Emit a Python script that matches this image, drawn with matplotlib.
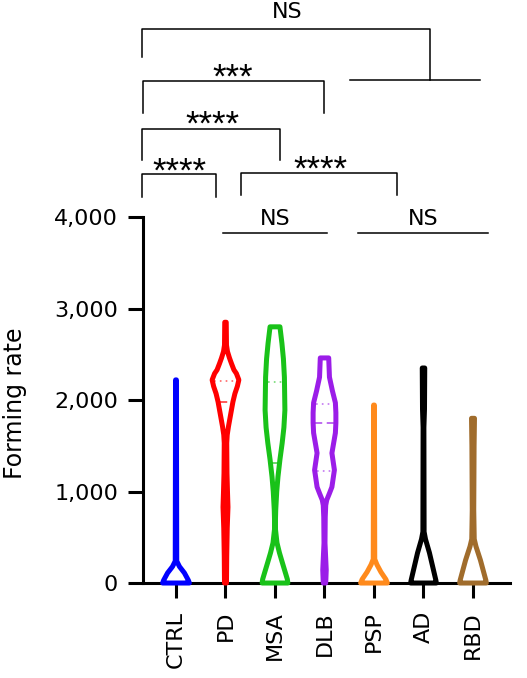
import matplotlib
matplotlib.use("Agg")
import matplotlib.pyplot as plt
import numpy as np

plt.rcParams['font.family'] = ['DejaVu Sans']

groups = ["CTRL", "PD", "MSA", "DLB", "PSP", "AD", "RBD"]
colors = ["#0000ff", "#ff0000", "#19c219", "#9b1de8", "#ff8a1c", "#000000", "#a06c2c"]
yticks = [0, 1000, 2000, 3000, 4000]

# violin outlines: value levels and half widths (bottom -> top)
ctrl_lv = [0, 30, 110, 180, 240, 2220]
ctrl_hw = [0.27, 0.25, 0.17, 0.07, 0.015, 0.008]
pd_lv = [0, 300, 600, 830, 1000, 1200, 1530, 1620, 1710, 1800, 1890, 1980, 2070, 2150,
         2220, 2290, 2330, 2400, 2460, 2530, 2600, 2850]
pd_hw = [0.02, 0.025, 0.035, 0.05, 0.04, 0.03, 0.025, 0.035, 0.06, 0.09, 0.12, 0.15, 0.19,
         0.24, 0.27, 0.22, 0.17, 0.12, 0.08, 0.04, 0.02, 0.015]
msa_lv = [0, 40, 130, 220, 330, 440, 610, 800, 1000, 1160, 1350, 1530, 1700, 1890, 2250, 2450, 2620, 2800]
msa_hw = [0.26, 0.25, 0.20, 0.15, 0.09, 0.04, 0.005, 0.015, 0.035, 0.06, 0.10, 0.145, 0.18, 0.20,
          0.19, 0.17, 0.14, 0.10]
dlb_lv = [0, 142, 437, 720, 850, 907, 980, 1050, 1235, 1420, 1530, 1640, 1750, 1860, 1970, 2100,
          2250, 2460]
dlb_hw = [0.025, 0.035, 0.01, 0.015, 0.025, 0.045, 0.10, 0.15, 0.20, 0.15, 0.185, 0.22, 0.23, 0.23,
          0.22, 0.16, 0.10, 0.085]
psp_lv = [0, 40, 120, 200, 260, 1945]
psp_hw = [0.27, 0.24, 0.14, 0.06, 0.015, 0.008]
ad_lv = [0, 30, 330, 480, 560, 1700, 1900, 2350]
ad_hw = [0.26, 0.25, 0.12, 0.04, 0.012, 0.008, 0.02, 0.025]
rbd_lv = [0, 30, 250, 400, 480, 800, 1500, 1800]
rbd_hw = [0.27, 0.26, 0.15, 0.06, 0.025, 0.015, 0.022, 0.03]

levels = [ctrl_lv, pd_lv, msa_lv, dlb_lv, psp_lv, ad_lv, rbd_lv]
widths = [ctrl_hw, pd_hw, msa_hw, dlb_hw, psp_hw, ad_hw, rbd_hw]

# median (dashed) and quartiles (dotted) where visible
medians = {"PD": [1980], "MSA": [1310], "DLB": [1745]}
quartiles = {"PD": [2210], "MSA": [2200], "DLB": [1960, 1220]}

fig = plt.figure(figsize=(5.27, 6.78), dpi=100)
ax = fig.add_axes([0.2713, 0.1401, 0.6964, 0.5398])

for i, (g, lv, hw, c) in enumerate(zip(groups, levels, widths, colors)):
    lv = np.array(lv)
    hw = np.array(hw)
    xs = np.concatenate([i - hw, (i + hw)[::-1]])
    ys = np.concatenate([lv, lv[::-1]])
    ax.fill(xs, ys, facecolor="none", edgecolor=c, lw=3.6,
            joinstyle="round", clip_on=False, zorder=3)
    for v in medians.get(g, []):
        w = np.interp(v, lv, hw) - 0.04
        ax.plot([i - w, i + w], [v, v], color=c, lw=1.3, alpha=0.7,
                ls=(0, (4, 2.5)), zorder=2)
    for v in quartiles.get(g, []):
        w = np.interp(v, lv, hw) - 0.04
        ax.plot([i - w, i + w], [v, v], color=c, lw=1.2, alpha=0.6,
                ls=(0, (1, 2.5)), zorder=2)

ax.set_xlim(-0.667, 6.747)
ax.set_ylim(0, 4000)
ax.set_xticks(range(len(groups)))
ax.set_xticklabels(groups, rotation=90, fontsize=16)
ax.set_yticks(yticks)
ax.set_yticklabels([f"{t:,}" for t in yticks], fontsize=16)
ax.tick_params(axis="both", width=2.2, length=11, pad=7, color="black")
ax.tick_params(axis="x", pad=9)
for s in ["top", "right"]:
    ax.spines[s].set_visible(False)
for s in ["left", "bottom"]:
    ax.spines[s].set_linewidth(2.2)
ax.set_ylabel("Forming rate", fontsize=17)
ax.yaxis.set_label_coords(-0.315, 0.49)

# significance brackets: (x left, x right, y bar, left leg end, right leg end)
brackets = [
    (-0.687, 5.13, 6055, 5749, 5497),
    (-0.667, 2.99, 5486, 5137, 5137),
    (-0.687, 2.10, 4962, 4623, 4623),
    (-0.687, 0.81, 4470, 4219, 4219),
    (1.31, 4.46, 4481, 4240, 4240),
]
plain_lines = [(3.52, 6.14, 5497), (0.95, 3.05, 3825), (3.68, 6.30, 3825)]
ns_labels = [(2.24, 6175), (2.0, 3913), (4.99, 3913)]
star_labels = [("***", 1.15, 5415), ("****", 0.73, 4896), ("****", 0.06, 4388), ("****", 2.91, 4410)]

for x0, x1, y, y0, y1 in brackets:
    ax.plot([x0, x0, x1, x1], [y0, y, y, y1], color="black", lw=1.1, clip_on=False)
for x0, x1, y in plain_lines:
    ax.plot([x0, x1], [y, y], color="black", lw=1.1, clip_on=False)
for x, y in ns_labels:
    ax.text(x, y, "NS", ha="center", va="baseline", fontsize=16, clip_on=False)
for txt, x, y in star_labels:
    ax.text(x, y, txt, ha="center", va="baseline", fontsize=25,
            family=["Liberation Sans", "DejaVu Sans"], clip_on=False)

fig.savefig("out.png", dpi=100)
